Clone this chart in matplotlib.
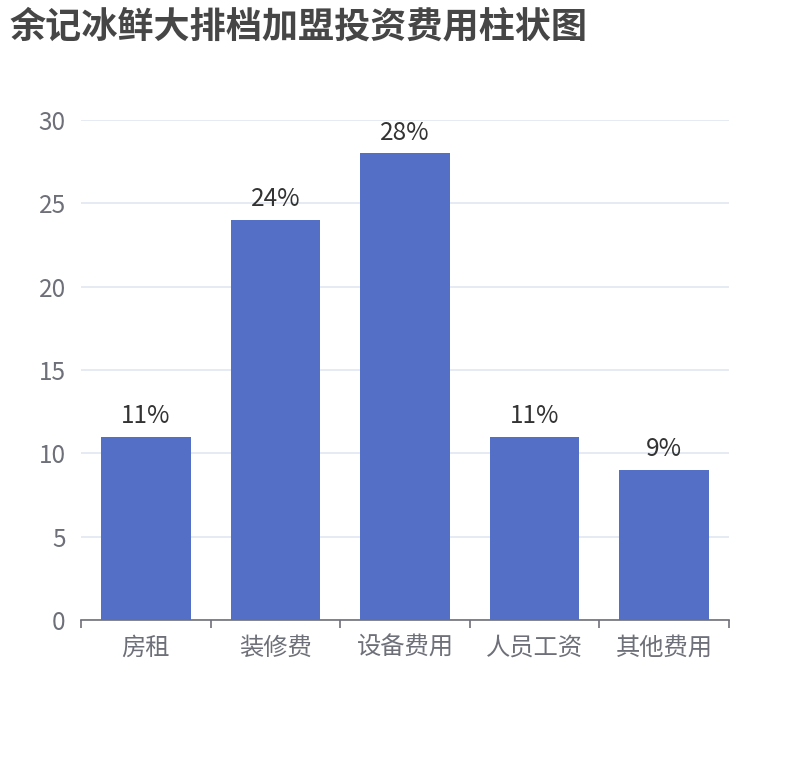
import matplotlib.pyplot as plt
import numpy as np

plt.rcParams['font.family'] = ['Noto Sans CJK SC', 'DejaVu Sans']

# data
categories = ["房租", "装修费", "设备费用", "人员工资", "其他费用"]
values = [11, 24, 28, 11, 9]
y_ticks = [0, 5, 10, 15, 20, 25, 30]
title = "余记冰鲜大排档加盟投资费用柱状图"

W, H = 810, 760
fig = plt.figure(figsize=(W / 100, H / 100), dpi=100)
# plot area: x 81..729, y 120..620 (pixels from top)
ax = fig.add_axes([81 / W, 1 - 620 / H, (729 - 81) / W, (620 - 120) / H])

x = np.arange(len(categories))
ax.bar(x, values, width=0.69, color="#5470c6", zorder=3)
for xi, v in zip(x, values):
    ax.annotate(f"{v}%", (xi, v), xytext=(0, 5.5), textcoords="offset points",
                ha="center", va="bottom", fontsize=17.5, color="#333333")

ax.set_xlim(-0.5, len(categories) - 0.5)
ax.set_ylim(0, 30)
ax.set_yticks(y_ticks)
ax.yaxis.grid(True, color="#E0E6F1", linewidth=1.2, zorder=0)
ax.tick_params(axis="y", length=0, pad=11, labelsize=17.5, labelcolor="#6E7079")

# category ticks between bars, labels centered
ax.set_xticks(np.arange(len(categories) + 1) - 0.5)
ax.set_xticklabels([])
ax.set_xticks(x, minor=True)
ax.set_xticklabels(categories, minor=True)
ax.tick_params(axis="x", which="major", length=6, width=1.2, color="#6E7079", direction="out")
ax.tick_params(axis="x", which="minor", length=0, pad=10.5, labelsize=17.5, labelcolor="#6E7079")

for s in ["top", "right", "left"]:
    ax.spines[s].set_visible(False)
ax.spines["bottom"].set_color("#6E7079")
ax.spines["bottom"].set_linewidth(1.2)
ax.spines["bottom"].set_zorder(4)

fig.text(10 / W, 1 - 27 / H, title, fontsize=26, fontweight="bold",
         color="#464646", ha="left", va="center")

fig.savefig("out.png", dpi=100)
